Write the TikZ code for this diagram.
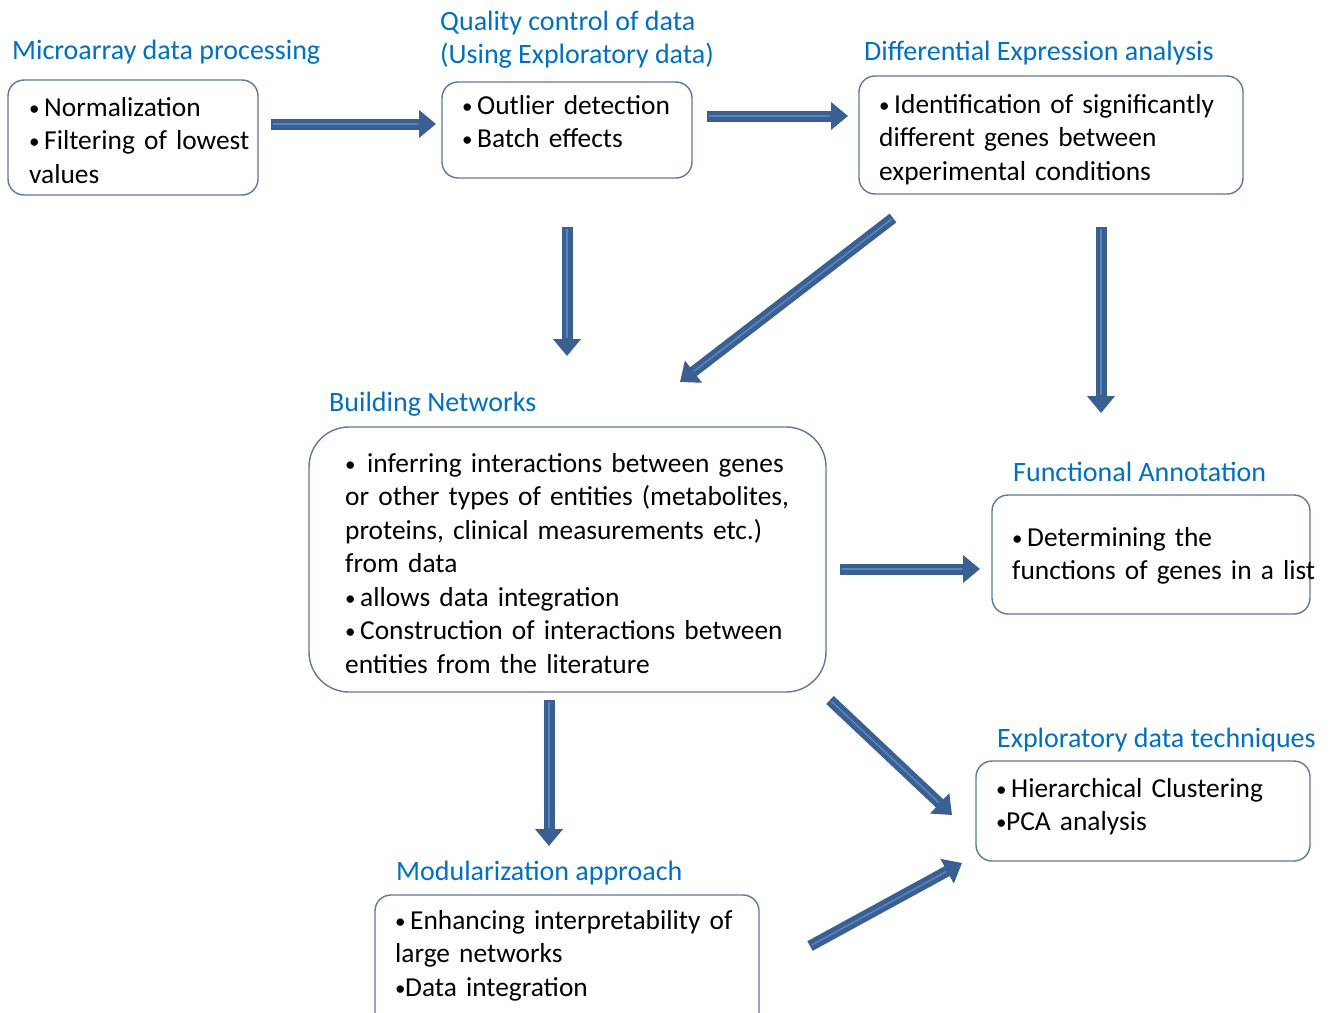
\documentclass[tikz,border=0pt]{standalone}
\usepackage{fontspec}
\setmainfont{Carlito}
\usetikzlibrary{arrows.meta}
\definecolor{titleblue}{RGB}{0,112,192}
\definecolor{boxline}{RGB}{95,120,158}
\definecolor{arrowblue}{RGB}{58,95,145}
\definecolor{stripeblue}{RGB}{88,132,190}
\newcommand\bl[1][15pt]{\makebox[#1][l]{\fontsize{21}{21}\selectfont\raisebox{1pt}{•}}}
\tikzset{
  box/.style={draw=boxline, line width=1.4pt, rounded corners=16pt, fill=white},
  bigbox/.style={box, rounded corners=40pt},
  ttl/.style={anchor=base west, inner sep=0pt, text=titleblue, font=\fontsize{28}{33.5}\selectfont},
  body/.style={anchor=base west, inner sep=0pt, text width=560pt, align=left, font=\fontsize{27.4}{33.5}\selectfont},
  fatarrow/.style={line width=11pt, arrowblue, -{Triangle[length=17pt,width=27pt]},
    postaction={draw, line width=1.6pt, stripeblue, -, shorten >=18pt, shorten <=2pt}},
}
\begin{document}
\begin{tikzpicture}[x=1pt,y=-1pt]
\path[use as bounding box, clip] (0,0) rectangle (1332,1012);
\fill[white] (0,0) rectangle (1332,1012);

% boxes
\draw[box] (8,80) rectangle (258,195);
\draw[box] (442,82) rectangle (692,178);
\draw[box] (859,76) rectangle (1243,194);
\draw[bigbox] (309,427) rectangle (826,692);
\draw[box] (992,495) rectangle (1310,614);
\draw[box] (976,761) rectangle (1310,861);
\draw[box] (375,895) rectangle (759,1040);

% titles
\node[ttl] (t1) at (12,59) {Microarray data processing};
\node[ttl] (t2a) at (440,30) {Quality control of data};
\node[ttl] (t2b) at (440,63) {(Using Exploratory data)};
\node[ttl] (t3) at (864,60) {Differential Expression analysis};
\node[ttl] (t4) at (329,411) {Building Networks};
\node[ttl] (t5) at (1013,481) {Functional Annotation};
\node[ttl] (t6) at (997,747) {Exploratory data techniques};
\node[ttl] (t7) at (396,880) {Modularization approach};

% body texts
\node[body] (x1) at (29,116) {\bl Normalization\\\bl Filtering of lowest\\values};
\node[body] (x2) at (462,114) {\bl Outlier detection\\\bl Batch effects};
\node[body] (x3) at (879,113) {\bl Identification of significantly\\different genes between\\experimental conditions};
\node[body] (x4) at (345,472) {\bl[22pt]inferring interactions between genes\\or other types of entities (metabolites,\\proteins, clinical measurements etc.)\\from data\\\bl allows data integration\\\bl Construction of interactions between\\entities from the literature};
\node[body] (x5) at (1012,546) {\bl Determining the\\functions of genes in a list};
\node[body] (x6) at (996,797) {\bl Hierarchical Clustering\\\bl[10pt]PCA analysis};
\node[body] (x7) at (395,929) {\bl Enhancing interpretability of\\large networks\\\bl[10pt]Data integration};

% arrow end points
\coordinate (a1s) at (271,124); \coordinate (a1e) at (436,124);
\coordinate (a2s) at (707,116); \coordinate (a2e) at (848,116);
\coordinate (a3s) at (567,227); \coordinate (a3e) at (567,356);
\coordinate (a4s) at (893,218); \coordinate (a4e) at (680,382);
\coordinate (a5s) at (1101,227); \coordinate (a5e) at (1101,413);
\coordinate (a6s) at (840,569); \coordinate (a6e) at (980,569);
\coordinate (a7s) at (549,700); \coordinate (a7e) at (549,846);
\coordinate (a8s) at (830,700); \coordinate (a8e) at (952,815);
\coordinate (a9s) at (810,946); \coordinate (a9e) at (962,863);

\draw[fatarrow] (a1s) -- (a1e);
\draw[fatarrow] (a2s) -- (a2e);
\draw[fatarrow] (a3s) -- (a3e);
\draw[fatarrow] (a4s) -- (a4e);
\draw[fatarrow] (a5s) -- (a5e);
\draw[fatarrow] (a6s) -- (a6e);
\draw[fatarrow] (a7s) -- (a7e);
\draw[fatarrow] (a8s) -- (a8e);
\draw[fatarrow] (a9s) -- (a9e);
\end{tikzpicture}
\end{document}
